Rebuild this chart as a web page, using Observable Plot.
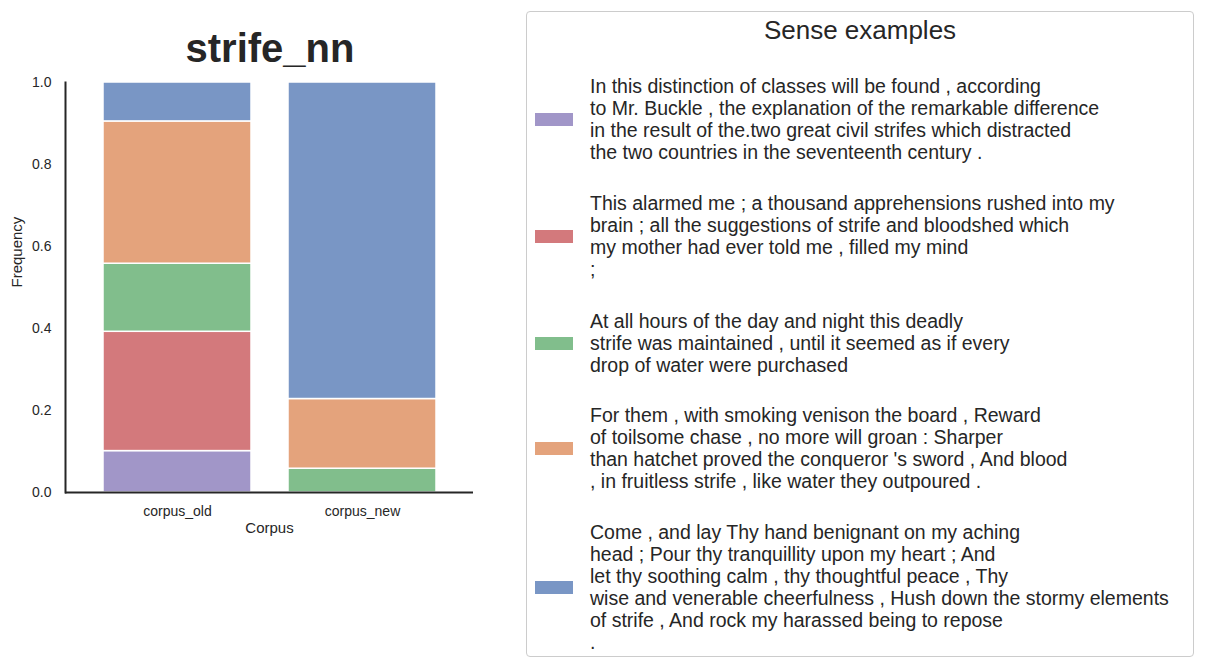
<!DOCTYPE html>
<html><head><meta charset="utf-8">
<script src="https://cdn.jsdelivr.net/npm/d3@7"></script>
<script src="https://cdn.jsdelivr.net/npm/@observablehq/plot@0.6"></script>
<style>
body{margin:0;background:#fff;font-family:"Liberation Sans",Arial,sans-serif;}
#wrap{position:relative;width:1206px;height:669px;overflow:hidden;}
#title{position:absolute;left:170px;width:200px;top:26px;text-align:center;font-weight:bold;font-size:40px;color:#262626;}
#legend{position:absolute;left:526px;top:11px;width:668px;height:646px;border:1px solid #ccc;border-radius:4px;box-sizing:border-box;color:#262626;}
#legend h2{margin:0;font-weight:normal;font-size:26px;text-align:center;position:absolute;top:3px;width:100%;}
.entry{position:absolute;left:8px;display:flex;align-items:center;}
.sw{width:38px;height:13px;margin-right:17px;}
.txt{font-size:19.5px;line-height:22px;white-space:pre;}
</style></head>
<body><div id="wrap"><div id="chart"></div><div id="title">strife_nn</div><div id="legend"><h2>Sense examples</h2></div></div>
<script>
const corpora = ["corpus_old","corpus_new"];
const senses = ["s0","s1","s2","s3","s4"];
const colors = ["#a196c8","#d3797c","#81be8c","#e4a37c","#7996c5"];
const oldFreq = [0.101,0.291,0.166,0.347,0.095];
const newFreq = [0,0,0.058,0.170,0.772];
const yTicks = [0,0.2,0.4,0.6,0.8,1.0];
const examples = [
"In this distinction of classes will be found , according\nto Mr. Buckle , the explanation of the remarkable difference\nin the result of the.two great civil strifes which distracted\nthe two countries in the seventeenth century .",
"This alarmed me ; a thousand apprehensions rushed into my\nbrain ; all the suggestions of strife and bloodshed which\nmy mother had ever told me , filled my mind\n;",
"At all hours of the day and night this deadly\nstrife was maintained , until it seemed as if every\ndrop of water were purchased",
"For them , with smoking venison the board , Reward\nof toilsome chase , no more will groan : Sharper\nthan hatchet proved the conqueror 's sword , And blood\n, in fruitless strife , like water they outpoured .",
"Come , and lay Thy hand benignant on my aching\nhead ; Pour thy tranquillity upon my heart ; And\nlet thy soothing calm , thy thoughtful peace , Thy\nwise and venerable cheerfulness , Hush down the stormy elements\nof strife , And rock my harassed being to repose\n."
];
const entryTops = [63, 180, 298, 392, 509];

const rows = [];
senses.forEach((s,i)=>{
  rows.push({corpus:"corpus_old",sense:s,freq:oldFreq[i]});
  rows.push({corpus:"corpus_new",sense:s,freq:newFreq[i]});
});

const chart = Plot.plot({
  width:480, height:669,
  marginTop:82, marginBottom:177, marginLeft:65, marginRight:7,
  style:{fontFamily:"Liberation Sans, Arial, sans-serif", fontSize:"14px", color:"#262626"},
  x:{domain:corpora, padding:0.2, label:null},
  y:{domain:[0,1], label:null},
  color:{domain:senses, range:colors},
  marks:[
    Plot.barY(rows,{x:"corpus",y:"freq",fill:"sense",stroke:"white",strokeWidth:1.5}),
    Plot.axisY({ticks:yTicks, tickFormat:d3.format(".1f"), tickSize:0, tickPadding:14, fontSize:14}),
    Plot.axisX({tickSize:0, tickPadding:14, fontSize:14}),
    Plot.frame({anchor:"left", stroke:"#262626", strokeWidth:2}),
    Plot.ruleY([0],{stroke:"#262626",strokeWidth:2}),
    Plot.text(["Corpus"],{frameAnchor:"bottom", dy:40, fontSize:15}),
    Plot.text(["Frequency"],{frameAnchor:"left", dx:-48, rotate:-90, fontSize:15})
  ]
});
document.getElementById("chart").appendChild(chart);

const lg = document.getElementById("legend");
examples.forEach((t,i)=>{
  const e=document.createElement("div"); e.className="entry"; e.style.top=entryTops[i]+"px";
  const sw=document.createElement("div"); sw.className="sw"; sw.style.background=colors[i];
  const tx=document.createElement("div"); tx.className="txt"; tx.textContent=t;
  e.appendChild(sw); e.appendChild(tx); lg.appendChild(e);
});
</script></body></html>
